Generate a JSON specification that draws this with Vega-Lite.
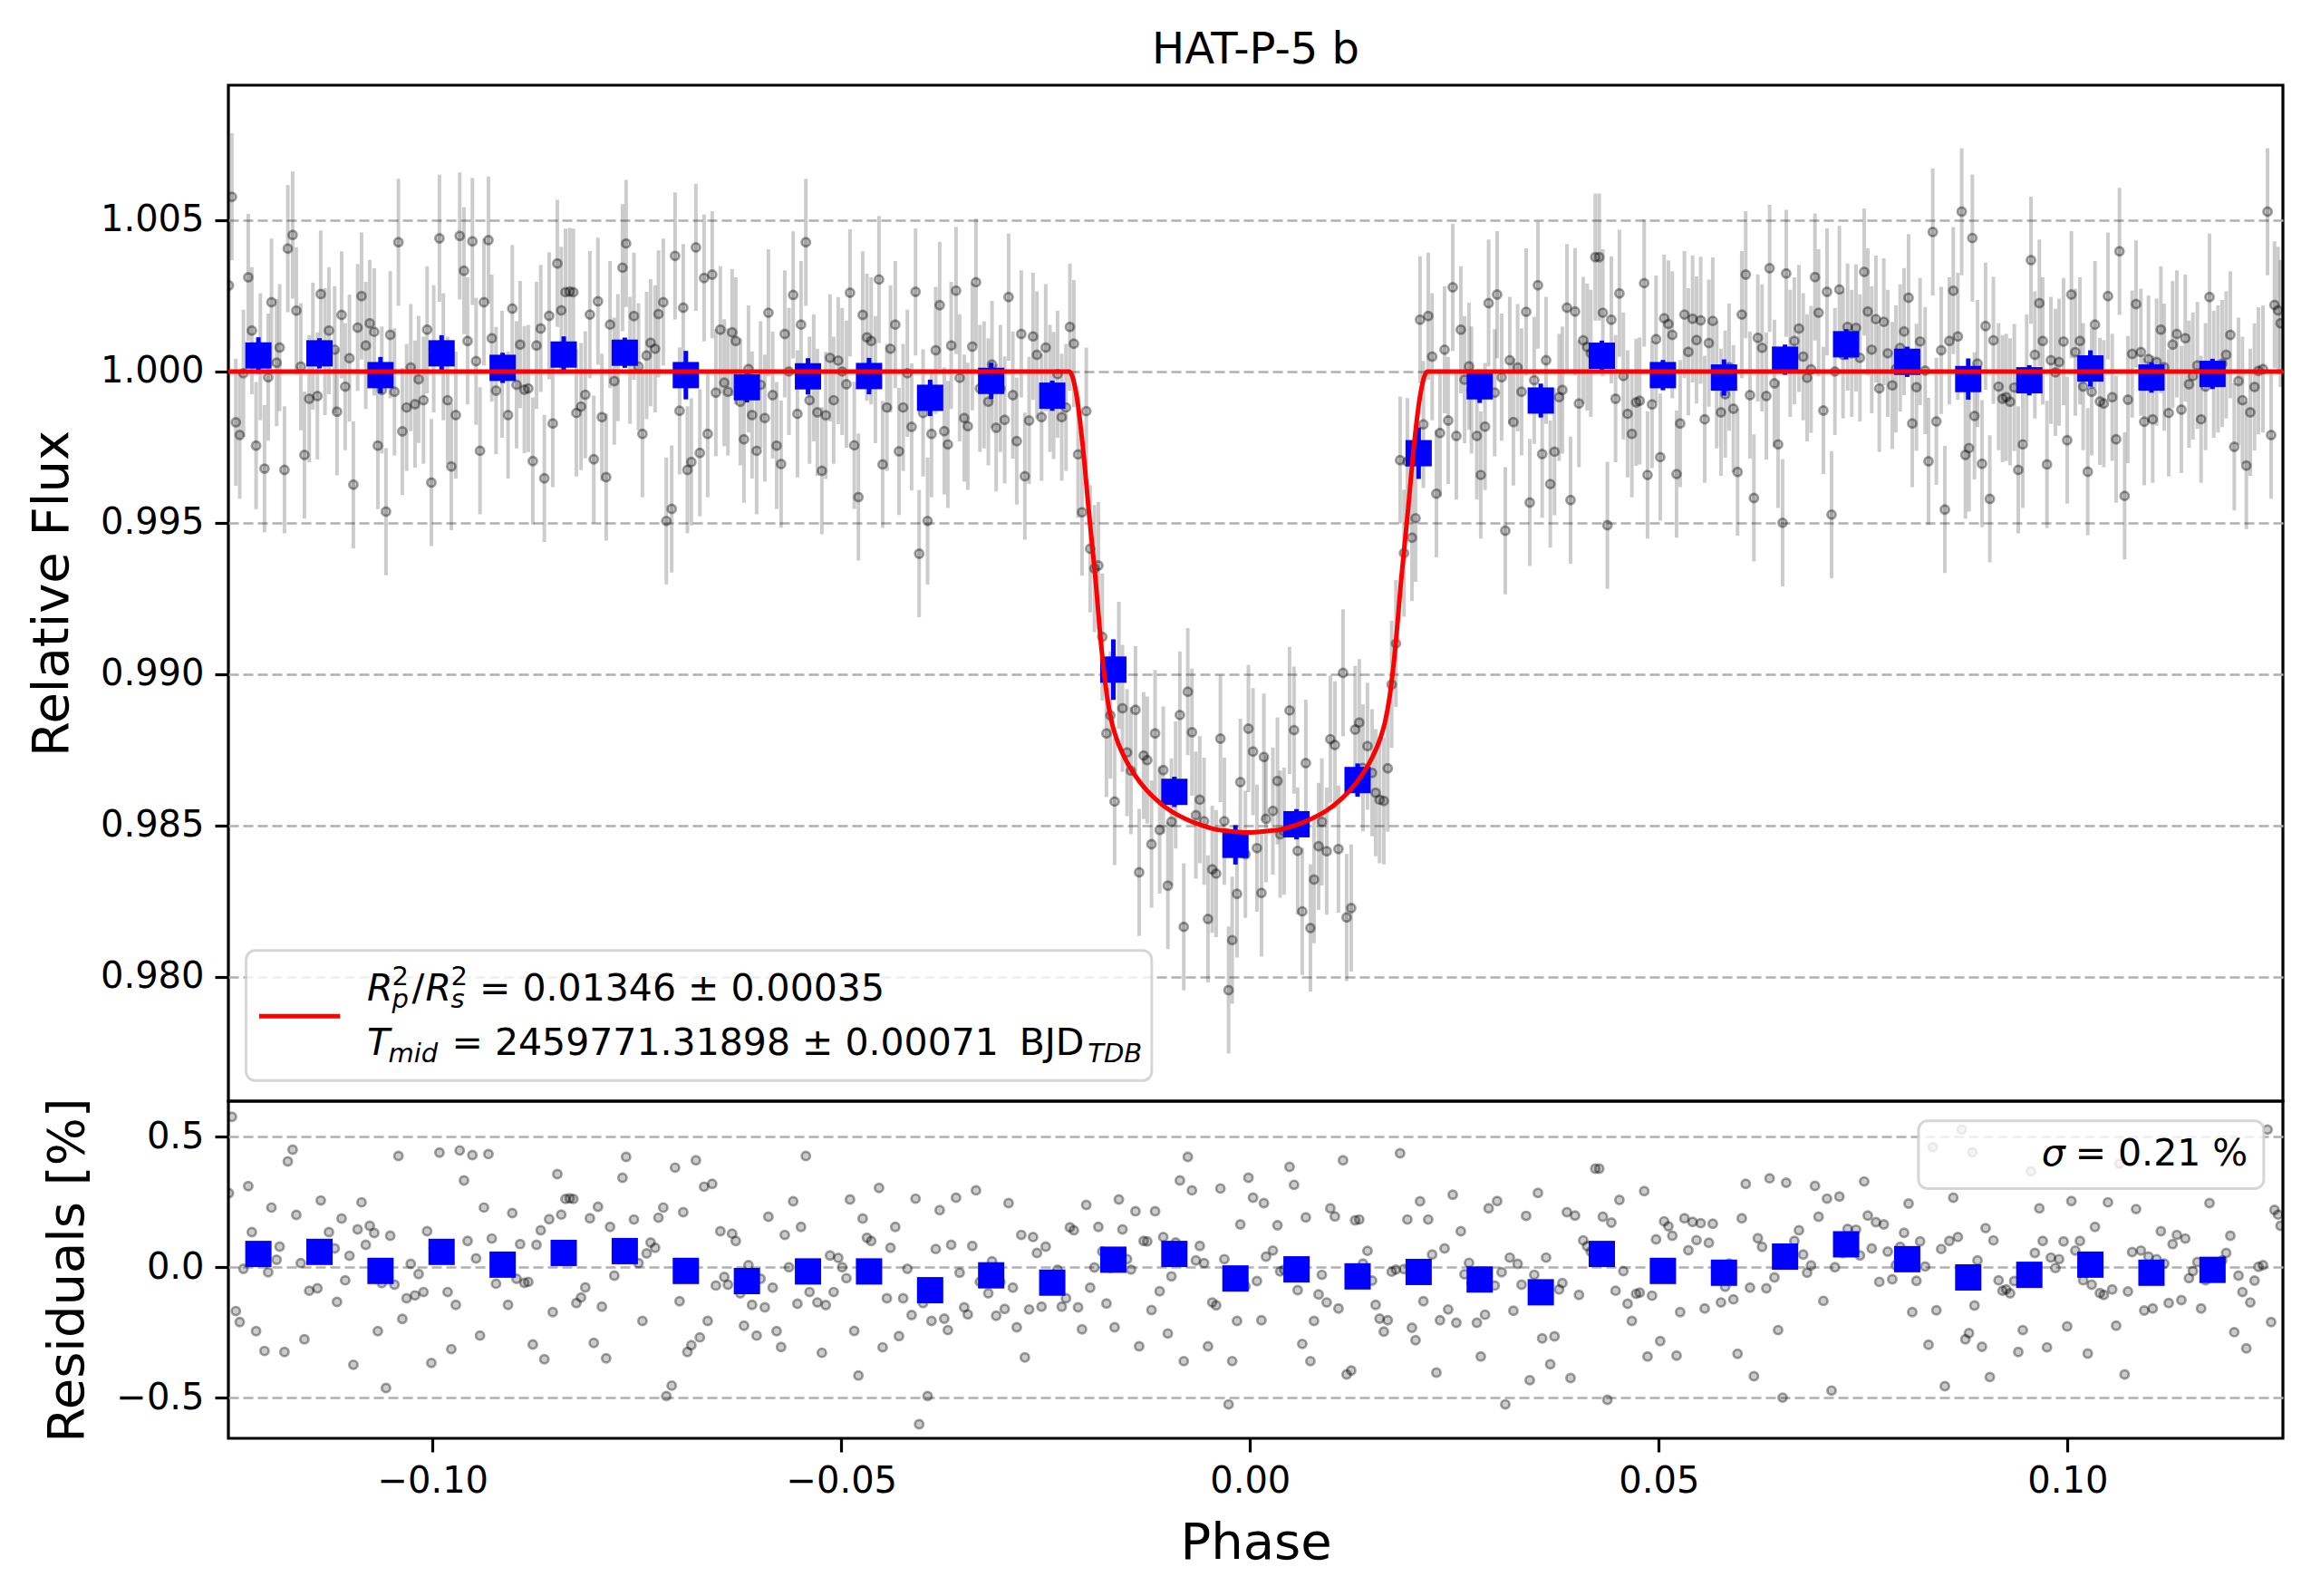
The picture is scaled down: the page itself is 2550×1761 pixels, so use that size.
{
  "$schema": "https://vega.github.io/schema/vega-lite/v6.json",
  "background": "white",
  "padding": {"left": 27, "top": 30, "right": 20, "bottom": 10},
  "datasets": {
    "pts": [
      {"p":-0.12491,"f":1.00284,"r":0.284,"e":0.0021},{"p":-0.12454,"f":1.00577,"r":0.577,"e":0.0021},{"p":-0.12406,"f":0.99832,"r":-0.168,"e":0.0021},{"p":-0.12358,"f":0.9979,"r":-0.21,"e":0.0021},{"p":-0.12313,"f":0.99994,"r":-0.006,"e":0.0021},{"p":-0.12254,"f":1.00311,"r":0.311,"e":0.0021},{"p":-0.1221,"f":1.00135,"r":0.135,"e":0.0021},{"p":-0.12158,"f":0.99755,"r":-0.245,"e":0.0021},{"p":-0.12106,"f":1.00049,"r":0.049,"e":0.0021},{"p":-0.12055,"f":0.99679,"r":-0.321,"e":0.0021},
      {"p":-0.1201,"f":0.99981,"r":-0.019,"e":0.0021},{"p":-0.1197,"f":1.00229,"r":0.229,"e":0.0021},{"p":-0.11907,"f":1.00029,"r":0.029,"e":0.0021},{"p":-0.1187,"f":1.00079,"r":0.079,"e":0.0021},{"p":-0.11811,"f":0.99675,"r":-0.325,"e":0.0021},{"p":-0.1177,"f":1.00406,"r":0.406,"e":0.0021},{"p":-0.11711,"f":1.00451,"r":0.451,"e":0.0021},{"p":-0.11666,"f":1.00201,"r":0.201,"e":0.0021},{"p":-0.11611,"f":1.00016,"r":0.016,"e":0.0021},{"p":-0.11567,"f":0.99724,"r":-0.276,"e":0.0021},
      {"p":-0.11508,"f":0.9991,"r":-0.09,"e":0.0021},{"p":-0.11463,"f":1.00084,"r":0.084,"e":0.0021},{"p":-0.11408,"f":0.99919,"r":-0.081,"e":0.0021},{"p":-0.11367,"f":1.00256,"r":0.256,"e":0.0021},{"p":-0.11315,"f":1.00066,"r":0.066,"e":0.0021},{"p":-0.11267,"f":1.00135,"r":0.135,"e":0.0021},{"p":-0.11197,"f":1.00072,"r":0.072,"e":0.0021},{"p":-0.11168,"f":0.99867,"r":-0.133,"e":0.0021},{"p":-0.11112,"f":1.00187,"r":0.187,"e":0.0021},{"p":-0.11068,"f":0.9995,"r":-0.05,"e":0.0021},
      {"p":-0.11016,"f":1.00044,"r":0.044,"e":0.0021},{"p":-0.10968,"f":0.99626,"r":-0.374,"e":0.0021},{"p":-0.10916,"f":1.00145,"r":0.145,"e":0.0021},{"p":-0.10868,"f":1.00249,"r":0.249,"e":0.0021},{"p":-0.10816,"f":1.00086,"r":0.086,"e":0.0021},{"p":-0.10768,"f":1.00159,"r":0.159,"e":0.0021},{"p":-0.10713,"f":1.00131,"r":0.131,"e":0.0021},{"p":-0.10669,"f":0.99755,"r":-0.245,"e":0.0021},{"p":-0.1062,"f":0.99939,"r":-0.061,"e":0.0021},{"p":-0.10569,"f":0.99537,"r":-0.463,"e":0.0021},
      {"p":-0.10517,"f":1.00121,"r":0.121,"e":0.0021},{"p":-0.10465,"f":0.99933,"r":-0.067,"e":0.0021},{"p":-0.10417,"f":1.00427,"r":0.427,"e":0.0021},{"p":-0.10369,"f":0.99802,"r":-0.198,"e":0.0021},{"p":-0.10317,"f":0.99881,"r":-0.119,"e":0.0021},{"p":-0.10266,"f":1.00013,"r":0.013,"e":0.0021},{"p":-0.10214,"f":0.99892,"r":-0.108,"e":0.0021},{"p":-0.1017,"f":0.99974,"r":-0.026,"e":0.0021},{"p":-0.1011,"f":0.99905,"r":-0.095,"e":0.0021},{"p":-0.10066,"f":1.00138,"r":0.138,"e":0.0021},
      {"p":-0.10014,"f":0.99633,"r":-0.367,"e":0.0021},{"p":-0.09985,"f":1.00075,"r":0.075,"e":0.0021},{"p":-0.09915,"f":1.0044,"r":0.44,"e":0.0021},{"p":-0.09867,"f":1.00049,"r":0.049,"e":0.0021},{"p":-0.09815,"f":0.99905,"r":-0.095,"e":0.0021},{"p":-0.0977,"f":0.99686,"r":-0.314,"e":0.0021},{"p":-0.09715,"f":0.99856,"r":-0.144,"e":0.0021},{"p":-0.09667,"f":1.00448,"r":0.448,"e":0.0021},{"p":-0.09615,"f":1.00333,"r":0.333,"e":0.0021},{"p":-0.09571,"f":1.00101,"r":0.101,"e":0.0021},
      {"p":-0.09512,"f":1.0043,"r":0.43,"e":0.0021},{"p":-0.09467,"f":1.00034,"r":0.034,"e":0.0021},{"p":-0.09419,"f":0.99738,"r":-0.262,"e":0.0021},{"p":-0.09371,"f":1.00229,"r":0.229,"e":0.0021},{"p":-0.09316,"f":1.00434,"r":0.434,"e":0.0021},{"p":-0.09275,"f":1.0011,"r":0.11,"e":0.0021},{"p":-0.09223,"f":0.99937,"r":-0.063,"e":0.0021},{"p":-0.09149,"f":0.99991,"r":-0.009,"e":0.0021},{"p":-0.09076,"f":0.99856,"r":-0.144,"e":0.0021},{"p":-0.09024,"f":1.00208,"r":0.208,"e":0.0021},
      {"p":-0.08972,"f":0.99956,"r":-0.044,"e":0.0021},{"p":-0.08928,"f":1.00089,"r":0.089,"e":0.0021},{"p":-0.08876,"f":0.9994,"r":-0.06,"e":0.0021},{"p":-0.08828,"f":0.99944,"r":-0.056,"e":0.0021},{"p":-0.08773,"f":0.99704,"r":-0.296,"e":0.0021},{"p":-0.08728,"f":1.00086,"r":0.086,"e":0.0021},{"p":-0.08676,"f":1.00142,"r":0.142,"e":0.0021},{"p":-0.08632,"f":0.99647,"r":-0.353,"e":0.0021},{"p":-0.08573,"f":1.00184,"r":0.184,"e":0.0021},{"p":-0.08529,"f":0.99828,"r":-0.172,"e":0.0021},
      {"p":-0.08473,"f":1.00357,"r":0.357,"e":0.0021},{"p":-0.08425,"f":1.00202,"r":0.202,"e":0.0021},{"p":-0.08373,"f":1.00262,"r":0.262,"e":0.0021},{"p":-0.08322,"f":1.00264,"r":0.264,"e":0.0021},{"p":-0.08277,"f":1.00262,"r":0.262,"e":0.0021},{"p":-0.0824,"f":0.99863,"r":-0.137,"e":0.0021},{"p":-0.08183,"f":0.99884,"r":-0.116,"e":0.0021},{"p":-0.08131,"f":0.99923,"r":-0.077,"e":0.0021},{"p":-0.08075,"f":1.00188,"r":0.188,"e":0.0021},{"p":-0.08027,"f":0.9971,"r":-0.29,"e":0.0021},
      {"p":-0.07976,"f":1.00232,"r":0.232,"e":0.0021},{"p":-0.07928,"f":0.99849,"r":-0.151,"e":0.0021},{"p":-0.07876,"f":0.99651,"r":-0.349,"e":0.0021},{"p":-0.07828,"f":1.00155,"r":0.155,"e":0.0021},{"p":-0.07776,"f":0.99968,"r":-0.032,"e":0.0021},{"p":-0.07732,"f":1.00046,"r":0.046,"e":0.0021},{"p":-0.07676,"f":1.00343,"r":0.343,"e":0.0021},{"p":-0.07632,"f":1.00423,"r":0.423,"e":0.0021},{"p":-0.07584,"f":1.00037,"r":0.037,"e":0.0021},{"p":-0.07536,"f":1.00183,"r":0.183,"e":0.0021},
      {"p":-0.0748,"f":1.00016,"r":0.016,"e":0.0021},{"p":-0.07432,"f":0.99794,"r":-0.206,"e":0.0021},{"p":-0.07381,"f":1.00053,"r":0.053,"e":0.0021},{"p":-0.07332,"f":1.00095,"r":0.095,"e":0.0021},{"p":-0.07277,"f":1.00075,"r":0.075,"e":0.0021},{"p":-0.07236,"f":1.0019,"r":0.19,"e":0.0021},{"p":-0.07177,"f":1.00229,"r":0.229,"e":0.0021},{"p":-0.0714,"f":0.99506,"r":-0.494,"e":0.0021},{"p":-0.07074,"f":0.99546,"r":-0.454,"e":0.0021},{"p":-0.07033,"f":1.00382,"r":0.382,"e":0.0021},
      {"p":-0.06978,"f":0.9987,"r":-0.13,"e":0.0021},{"p":-0.06933,"f":1.00211,"r":0.211,"e":0.0021},{"p":-0.06882,"f":0.99675,"r":-0.325,"e":0.0021},{"p":-0.06834,"f":0.99701,"r":-0.299,"e":0.0021},{"p":-0.06778,"f":1.0041,"r":0.41,"e":0.0021},{"p":-0.0673,"f":0.99731,"r":-0.269,"e":0.0021},{"p":-0.06678,"f":1.00309,"r":0.309,"e":0.0021},{"p":-0.06634,"f":0.99794,"r":-0.206,"e":0.0021},{"p":-0.06579,"f":1.0032,"r":0.32,"e":0.0021},{"p":-0.06534,"f":0.9993,"r":-0.07,"e":0.0021},
      {"p":-0.06479,"f":1.00138,"r":0.138,"e":0.0021},{"p":-0.06431,"f":0.99963,"r":-0.037,"e":0.0021},{"p":-0.06386,"f":0.99933,"r":-0.067,"e":0.0021},{"p":-0.06335,"f":1.00129,"r":0.129,"e":0.0021},{"p":-0.0629,"f":1.00101,"r":0.101,"e":0.0021},{"p":-0.06235,"f":0.999,"r":-0.1,"e":0.0021},{"p":-0.0619,"f":0.99776,"r":-0.224,"e":0.0021},{"p":-0.06135,"f":1.00008,"r":0.008,"e":0.0021},{"p":-0.06091,"f":0.99856,"r":-0.144,"e":0.0021},{"p":-0.06035,"f":0.99738,"r":-0.262,"e":0.0021},
      {"p":-0.05987,"f":0.99956,"r":-0.044,"e":0.0021},{"p":-0.05935,"f":0.99846,"r":-0.154,"e":0.0021},{"p":-0.05891,"f":1.00194,"r":0.194,"e":0.0021},{"p":-0.05839,"f":0.99922,"r":-0.078,"e":0.0021},{"p":-0.05791,"f":0.99755,"r":-0.245,"e":0.0021},{"p":-0.05736,"f":0.99694,"r":-0.306,"e":0.0021},{"p":-0.05691,"f":1.00124,"r":0.124,"e":0.0021},{"p":-0.0564,"f":1.0,"r":0.0,"e":0.0021},{"p":-0.05588,"f":1.00253,"r":0.253,"e":0.0021},{"p":-0.05536,"f":0.9986,"r":-0.14,"e":0.0021},
      {"p":-0.05492,"f":1.00155,"r":0.155,"e":0.0021},{"p":-0.05433,"f":1.00427,"r":0.427,"e":0.0021},{"p":-0.05388,"f":0.99905,"r":-0.095,"e":0.0021},{"p":-0.05337,"f":0.99979,"r":-0.021,"e":0.0021},{"p":-0.05292,"f":0.99865,"r":-0.135,"e":0.0021},{"p":-0.05237,"f":0.99672,"r":-0.328,"e":0.0021},{"p":-0.05189,"f":0.99855,"r":-0.145,"e":0.0021},{"p":-0.05137,"f":1.00045,"r":0.045,"e":0.0021},{"p":-0.05093,"f":0.99905,"r":-0.095,"e":0.0021},{"p":-0.05037,"f":1.00036,"r":0.036,"e":0.0021},
      {"p":-0.04989,"f":1.0,"r":0.0,"e":0.0021},{"p":-0.04937,"f":0.99958,"r":-0.042,"e":0.0021},{"p":-0.04893,"f":1.0026,"r":0.26,"e":0.0021},{"p":-0.04841,"f":0.99756,"r":-0.244,"e":0.0021},{"p":-0.0479,"f":0.99585,"r":-0.415,"e":0.0021},{"p":-0.04738,"f":1.00187,"r":0.187,"e":0.0021},{"p":-0.04686,"f":1.00113,"r":0.113,"e":0.0021},{"p":-0.04634,"f":1.00101,"r":0.101,"e":0.0021},{"p":-0.04583,"f":0.99973,"r":-0.027,"e":0.0021},{"p":-0.04538,"f":1.00304,"r":0.304,"e":0.0021},
      {"p":-0.04494,"f":0.99693,"r":-0.307,"e":0.0021},{"p":-0.04442,"f":0.99881,"r":-0.119,"e":0.0021},{"p":-0.04398,"f":1.00075,"r":0.075,"e":0.0021},{"p":-0.04339,"f":1.00155,"r":0.155,"e":0.0021},{"p":-0.04294,"f":0.99736,"r":-0.264,"e":0.0021},{"p":-0.04243,"f":0.99881,"r":-0.119,"e":0.0021},{"p":-0.04191,"f":0.99994,"r":-0.006,"e":0.0021},{"p":-0.04139,"f":0.99817,"r":-0.183,"e":0.0021},{"p":-0.04091,"f":1.00263,"r":0.263,"e":0.0021},{"p":-0.04047,"f":0.99398,"r":-0.602,"e":0.0021},
      {"p":-0.03999,"f":0.99863,"r":-0.137,"e":0.0021},{"p":-0.03944,"f":0.99506,"r":-0.494,"e":0.0021},{"p":-0.03896,"f":0.99794,"r":-0.206,"e":0.0021},{"p":-0.03844,"f":1.0007,"r":0.07,"e":0.0021},{"p":-0.03796,"f":1.00219,"r":0.219,"e":0.0021},{"p":-0.0374,"f":0.99803,"r":-0.197,"e":0.0021},{"p":-0.03696,"f":0.99759,"r":-0.241,"e":0.0021},{"p":-0.03655,"f":1.00086,"r":0.086,"e":0.0021},{"p":-0.03596,"f":1.00267,"r":0.267,"e":0.0021},{"p":-0.03552,"f":0.99979,"r":-0.021,"e":0.0021},
      {"p":-0.03496,"f":0.99846,"r":-0.154,"e":0.0021},{"p":-0.03452,"f":0.99819,"r":-0.181,"e":0.0021},{"p":-0.03397,"f":1.00082,"r":0.082,"e":0.0021},{"p":-0.03352,"f":1.00295,"r":0.295,"e":0.0021},{"p":-0.03304,"f":0.99944,"r":-0.056,"e":0.0021},{"p":-0.03253,"f":0.99956,"r":-0.044,"e":0.0021},{"p":-0.03201,"f":0.999,"r":-0.1,"e":0.0021},{"p":-0.03156,"f":1.00023,"r":0.023,"e":0.0021},{"p":-0.03105,"f":0.99814,"r":-0.186,"e":0.0021},{"p":-0.03053,"f":0.99944,"r":-0.056,"e":0.0021},
      {"p":-0.03001,"f":0.9984,"r":-0.16,"e":0.0021},{"p":-0.02953,"f":1.00246,"r":0.246,"e":0.0021},{"p":-0.02901,"f":0.99922,"r":-0.078,"e":0.0021},{"p":-0.02853,"f":0.9977,"r":-0.23,"e":0.0021},{"p":-0.02798,"f":1.00124,"r":0.124,"e":0.0021},{"p":-0.02754,"f":0.99654,"r":-0.346,"e":0.0021},{"p":-0.02702,"f":0.99838,"r":-0.162,"e":0.0021},{"p":-0.02654,"f":1.00116,"r":0.116,"e":0.0021},{"p":-0.02606,"f":1.00055,"r":0.055,"e":0.0021},{"p":-0.0255,"f":0.99849,"r":-0.151,"e":0.0021},
      {"p":-0.02499,"f":1.00079,"r":0.079,"e":0.0021},{"p":-0.02447,"f":0.99944,"r":-0.056,"e":0.0021},{"p":-0.02402,"f":0.99921,"r":-0.079,"e":0.0021},{"p":-0.02354,"f":0.99991,"r":-0.009,"e":0.0021},{"p":-0.02303,"f":0.99849,"r":-0.151,"e":0.0021},{"p":-0.02251,"f":0.99881,"r":-0.119,"e":0.0021},{"p":-0.02203,"f":1.00147,"r":0.153,"e":0.0021},{"p":-0.02155,"f":1.00092,"r":0.142,"e":0.0021},{"p":-0.02103,"f":0.99726,"r":-0.154,"e":0.0021},{"p":-0.02055,"f":0.99535,"r":-0.238,"e":0.0021},
      {"p":-0.02003,"f":0.99869,"r":0.239,"e":0.0021},{"p":-0.01955,"f":0.99414,"r":-0.078,"e":0.0021},{"p":-0.01903,"f":0.99349,"r":-0.001,"e":0.0021},{"p":-0.01855,"f":0.99359,"r":0.155,"e":0.0021},{"p":-0.01807,"f":0.99123,"r":0.06,"e":0.0021},{"p":-0.01756,"f":0.98804,"r":-0.139,"e":0.0021},{"p":-0.01708,"f":0.98864,"r":-0.003,"e":0.0021},{"p":-0.01656,"f":0.98579,"r":-0.23,"e":0.0021},{"p":-0.01604,"f":0.99029,"r":0.26,"e":0.0021},{"p":-0.0156,"f":0.98887,"r":0.145,"e":0.0021},
      {"p":-0.01504,"f":0.98741,"r":0.031,"e":0.0021},{"p":-0.01456,"f":0.98681,"r":-0.009,"e":0.0021},{"p":-0.01401,"f":0.98882,"r":0.215,"e":0.0021},{"p":-0.01356,"f":0.98345,"r":-0.303,"e":0.0021},{"p":-0.01301,"f":0.98731,"r":0.101,"e":0.0021},{"p":-0.01257,"f":0.98716,"r":0.099,"e":0.0021},{"p":-0.01205,"f":0.98438,"r":-0.164,"e":0.0021},{"p":-0.01161,"f":0.98804,"r":0.215,"e":0.0021},{"p":-0.01105,"f":0.98485,"r":-0.092,"e":0.0021},{"p":-0.01061,"f":0.98683,"r":0.116,"e":0.0021},
      {"p":-0.01005,"f":0.98301,"r":-0.254,"e":0.0021},{"p":-0.00961,"f":0.98512,"r":-0.035,"e":0.0021},{"p":-0.00909,"f":0.98634,"r":0.095,"e":0.0021},{"p":-0.00858,"f":0.98865,"r":0.333,"e":0.0021},{"p":-0.0081,"f":0.98165,"r":-0.36,"e":0.0021},{"p":-0.00761,"f":0.98942,"r":0.423,"e":0.0021},{"p":-0.0071,"f":0.98808,"r":0.295,"e":0.0021},{"p":-0.00662,"f":0.98534,"r":0.026,"e":0.0021},{"p":-0.00614,"f":0.98585,"r":0.082,"e":0.0021},{"p":-0.00562,"f":0.98514,"r":0.016,"e":0.0021},
      {"p":-0.00514,"f":0.98191,"r":-0.303,"e":0.0021},{"p":-0.00462,"f":0.98355,"r":-0.135,"e":0.0021},{"p":-0.00414,"f":0.98341,"r":-0.146,"e":0.0021},{"p":-0.00362,"f":0.98787,"r":0.302,"e":0.0021},{"p":-0.00314,"f":0.98514,"r":0.031,"e":0.0021},{"p":-0.00262,"f":0.97956,"r":-0.526,"e":0.0021},{"p":-0.00218,"f":0.98121,"r":-0.36,"e":0.0021},{"p":-0.00159,"f":0.98274,"r":-0.206,"e":0.0021},{"p":-0.00118,"f":0.98643,"r":0.164,"e":0.0021},{"p":-0.00056,"f":0.98405,"r":-0.073,"e":0.0021},
      {"p":-0.00019,"f":0.9882,"r":0.343,"e":0.0021},{"p":0.00037,"f":0.98744,"r":0.267,"e":0.0021},{"p":0.00085,"f":0.98425,"r":-0.053,"e":0.0021},{"p":0.0014,"f":0.98277,"r":-0.203,"e":0.0021},{"p":0.0017,"f":0.98726,"r":0.246,"e":0.0021},{"p":0.00196,"f":0.98522,"r":0.041,"e":0.0021},{"p":0.0028,"f":0.98548,"r":0.064,"e":0.0021},{"p":0.00336,"f":0.98647,"r":0.161,"e":0.0021},{"p":0.00369,"f":0.98471,"r":-0.016,"e":0.0021},{"p":0.00417,"f":0.98481,"r":-0.009,"e":0.0021},
      {"p":0.00484,"f":0.9888,"r":0.385,"e":0.0021},{"p":0.00539,"f":0.98815,"r":0.316,"e":0.0021},{"p":0.00583,"f":0.98416,"r":-0.088,"e":0.0021},{"p":0.00639,"f":0.98216,"r":-0.294,"e":0.0021},{"p":0.00683,"f":0.98706,"r":0.191,"e":0.0021},{"p":0.00739,"f":0.98161,"r":-0.36,"e":0.0021},{"p":0.00783,"f":0.98321,"r":-0.206,"e":0.0021},{"p":0.00839,"f":0.98431,"r":-0.104,"e":0.0021},{"p":0.00879,"f":0.98512,"r":-0.029,"e":0.0021},{"p":0.00938,"f":0.98415,"r":-0.135,"e":0.0021},
      {"p":0.00983,"f":0.98785,"r":0.226,"e":0.0021},{"p":0.01038,"f":0.98766,"r":0.195,"e":0.0021},{"p":0.01082,"f":0.98422,"r":-0.158,"e":0.0021},{"p":0.01138,"f":0.99004,"r":0.41,"e":0.0021},{"p":0.01182,"f":0.98196,"r":-0.411,"e":0.0021},{"p":0.01238,"f":0.98227,"r":-0.396,"e":0.0021},{"p":0.01286,"f":0.98817,"r":0.18,"e":0.0021},{"p":0.01337,"f":0.9884,"r":0.183,"e":0.0021},{"p":0.01382,"f":0.9869,"r":0.014,"e":0.0021},{"p":0.01437,"f":0.98762,"r":0.063,"e":0.0021},
      {"p":0.01493,"f":0.98674,"r":-0.051,"e":0.0021},{"p":0.01537,"f":0.98608,"r":-0.144,"e":0.0021},{"p":0.01585,"f":0.98585,"r":-0.197,"e":0.0021},{"p":0.01637,"f":0.98581,"r":-0.247,"e":0.0021},{"p":0.01685,"f":0.98689,"r":-0.203,"e":0.0021},{"p":0.01733,"f":0.98966,"r":-0.017,"e":0.0021},{"p":0.01785,"f":0.99101,"r":-0.009,"e":0.0021},{"p":0.01836,"f":0.99707,"r":0.437,"e":0.0021},{"p":0.01884,"f":0.994,"r":-0.007,"e":0.0021},{"p":0.01925,"f":0.99702,"r":0.183,"e":0.0021},
      {"p":0.01981,"f":0.99451,"r":-0.232,"e":0.0021},{"p":0.02025,"f":0.99515,"r":-0.28,"e":0.0021},{"p":0.0208,"f":1.00171,"r":0.253,"e":0.0021},{"p":0.02121,"f":0.99825,"r":-0.13,"e":0.0021},{"p":0.0218,"f":1.00183,"r":0.183,"e":0.0021},{"p":0.02228,"f":1.00049,"r":0.049,"e":0.0021},{"p":0.0228,"f":0.99596,"r":-0.404,"e":0.0021},{"p":0.02324,"f":0.99797,"r":-0.203,"e":0.0021},{"p":0.0238,"f":1.00072,"r":0.072,"e":0.0021},{"p":0.02424,"f":0.99838,"r":-0.162,"e":0.0021},
      {"p":0.0248,"f":1.00278,"r":0.278,"e":0.0021},{"p":0.02524,"f":0.99787,"r":-0.213,"e":0.0021},{"p":0.02579,"f":1.00138,"r":0.138,"e":0.0021},{"p":0.02624,"f":0.99973,"r":-0.027,"e":0.0021},{"p":0.02679,"f":1.00017,"r":0.017,"e":0.0021},{"p":0.02709,"f":0.99939,"r":-0.061,"e":0.0021},{"p":0.02775,"f":0.99787,"r":-0.213,"e":0.0021},{"p":0.02823,"f":0.99658,"r":-0.342,"e":0.0021},{"p":0.02875,"f":0.99818,"r":-0.182,"e":0.0021},{"p":0.02919,"f":1.00226,"r":0.226,"e":0.0021},
      {"p":0.02993,"f":0.9993,"r":-0.07,"e":0.0021},{"p":0.03023,"f":1.00254,"r":0.254,"e":0.0021},{"p":0.03078,"f":0.99981,"r":-0.019,"e":0.0021},{"p":0.03123,"f":0.99474,"r":-0.526,"e":0.0021},{"p":0.03178,"f":1.00037,"r":0.037,"e":0.0021},{"p":0.03222,"f":0.99833,"r":-0.167,"e":0.0021},{"p":0.03274,"f":1.00013,"r":0.013,"e":0.0021},{"p":0.03322,"f":0.99933,"r":-0.067,"e":0.0021},{"p":0.03378,"f":1.00197,"r":0.197,"e":0.0021},{"p":0.03422,"f":0.99567,"r":-0.433,"e":0.0021},
      {"p":0.03477,"f":0.99971,"r":-0.029,"e":0.0021},{"p":0.03522,"f":1.00285,"r":0.285,"e":0.0021},{"p":0.03574,"f":0.99727,"r":-0.273,"e":0.0021},{"p":0.03622,"f":1.00037,"r":0.037,"e":0.0021},{"p":0.03673,"f":0.99628,"r":-0.372,"e":0.0021},{"p":0.03725,"f":0.99735,"r":-0.265,"e":0.0021},{"p":0.03781,"f":0.99915,"r":-0.085,"e":0.0021},{"p":0.03821,"f":0.99939,"r":-0.061,"e":0.0021},{"p":0.03877,"f":1.00211,"r":0.211,"e":0.0021},{"p":0.03921,"f":0.99575,"r":-0.425,"e":0.0021},
      {"p":0.03976,"f":1.00198,"r":0.198,"e":0.0021},{"p":0.04024,"f":0.99894,"r":-0.106,"e":0.0021},{"p":0.04076,"f":1.00103,"r":0.103,"e":0.0021},{"p":0.04124,"f":1.00081,"r":0.081,"e":0.0021},{"p":0.04169,"f":1.0006,"r":0.06,"e":0.0021},{"p":0.04224,"f":1.00378,"r":0.378,"e":0.0021},{"p":0.04272,"f":1.00378,"r":0.378,"e":0.0021},{"p":0.04316,"f":1.00194,"r":0.194,"e":0.0021},{"p":0.04372,"f":0.99492,"r":-0.508,"e":0.0021},{"p":0.0442,"f":1.00171,"r":0.171,"e":0.0021},
      {"p":0.04472,"f":0.9991,"r":-0.09,"e":0.0021},{"p":0.04519,"f":1.00258,"r":0.258,"e":0.0021},{"p":0.04567,"f":0.99985,"r":-0.015,"e":0.0021},{"p":0.04619,"f":0.9986,"r":-0.14,"e":0.0021},{"p":0.04671,"f":0.99794,"r":-0.206,"e":0.0021},{"p":0.04723,"f":0.99898,"r":-0.102,"e":0.0021},{"p":0.04767,"f":0.99903,"r":-0.097,"e":0.0021},{"p":0.04822,"f":1.00292,"r":0.292,"e":0.0021},{"p":0.04863,"f":0.99658,"r":-0.342,"e":0.0021},{"p":0.04918,"f":0.99891,"r":-0.109,"e":0.0021},
      {"p":0.04967,"f":1.00107,"r":0.107,"e":0.0021},{"p":0.05018,"f":0.99717,"r":-0.283,"e":0.0021},{"p":0.05066,"f":1.00176,"r":0.176,"e":0.0021},{"p":0.05118,"f":1.00157,"r":0.157,"e":0.0021},{"p":0.05166,"f":1.00121,"r":0.121,"e":0.0021},{"p":0.05218,"f":0.99661,"r":-0.339,"e":0.0021},{"p":0.05262,"f":0.99828,"r":-0.172,"e":0.0021},{"p":0.05314,"f":1.00188,"r":0.188,"e":0.0021},{"p":0.05362,"f":1.00065,"r":0.065,"e":0.0021},{"p":0.05414,"f":1.00174,"r":0.174,"e":0.0021},
      {"p":0.05462,"f":1.00104,"r":0.104,"e":0.0021},{"p":0.05513,"f":1.00169,"r":0.169,"e":0.0021},{"p":0.05562,"f":0.99842,"r":-0.158,"e":0.0021},{"p":0.05613,"f":1.00094,"r":0.094,"e":0.0021},{"p":0.05661,"f":1.00167,"r":0.167,"e":0.0021},{"p":0.05709,"f":0.99956,"r":-0.044,"e":0.0021},{"p":0.05761,"f":0.99865,"r":-0.135,"e":0.0021},{"p":0.05813,"f":0.99925,"r":-0.075,"e":0.0021},{"p":0.05861,"f":1.00014,"r":0.014,"e":0.0021},{"p":0.05913,"f":0.99877,"r":-0.123,"e":0.0021},
      {"p":0.05964,"f":0.99668,"r":-0.332,"e":0.0021},{"p":0.06016,"f":1.00188,"r":0.188,"e":0.0021},{"p":0.06064,"f":1.0032,"r":0.32,"e":0.0021},{"p":0.06116,"f":0.99922,"r":-0.078,"e":0.0021},{"p":0.06164,"f":0.99582,"r":-0.418,"e":0.0021},{"p":0.06212,"f":1.00111,"r":0.111,"e":0.0021},{"p":0.06264,"f":1.00078,"r":0.078,"e":0.0021},{"p":0.06316,"f":0.99919,"r":-0.081,"e":0.0021},{"p":0.06356,"f":1.00341,"r":0.341,"e":0.0021},{"p":0.06415,"f":0.99961,"r":-0.039,"e":0.0021},
      {"p":0.0646,"f":0.99759,"r":-0.241,"e":0.0021},{"p":0.06515,"f":0.995,"r":-0.5,"e":0.0021},{"p":0.06559,"f":1.00324,"r":0.324,"e":0.0021},{"p":0.06608,"f":1.0006,"r":0.06,"e":0.0021},{"p":0.06659,"f":1.00101,"r":0.101,"e":0.0021},{"p":0.06715,"f":1.00142,"r":0.142,"e":0.0021},{"p":0.06767,"f":1.00049,"r":0.049,"e":0.0021},{"p":0.06815,"f":0.99979,"r":-0.021,"e":0.0021},{"p":0.06863,"f":1.00007,"r":0.007,"e":0.0021},{"p":0.06911,"f":1.00312,"r":0.312,"e":0.0021},
      {"p":0.06955,"f":1.00194,"r":0.194,"e":0.0021},{"p":0.07014,"f":0.99871,"r":-0.129,"e":0.0021},{"p":0.07058,"f":1.00263,"r":0.263,"e":0.0021},{"p":0.07114,"f":0.99527,"r":-0.473,"e":0.0021},{"p":0.07155,"f":1.0,"r":0.0,"e":0.0021},{"p":0.0721,"f":1.00271,"r":0.271,"e":0.0021},{"p":0.07254,"f":1.00055,"r":0.055,"e":0.0021},{"p":0.0731,"f":1.00147,"r":0.147,"e":0.0021},{"p":0.07361,"f":1.0006,"r":0.06,"e":0.0021},{"p":0.07413,"f":1.00144,"r":0.144,"e":0.0021},
      {"p":0.07461,"f":1.00045,"r":0.045,"e":0.0021},{"p":0.07513,"f":1.00329,"r":0.329,"e":0.0021},{"p":0.07557,"f":1.00198,"r":0.198,"e":0.0021},{"p":0.07605,"f":1.00072,"r":0.072,"e":0.0021},{"p":0.07657,"f":1.00173,"r":0.173,"e":0.0021},{"p":0.07698,"f":0.99944,"r":-0.056,"e":0.0021},{"p":0.07753,"f":1.00164,"r":0.164,"e":0.0021},{"p":0.07801,"f":1.0006,"r":0.06,"e":0.0021},{"p":0.07857,"f":0.99954,"r":-0.046,"e":0.0021},{"p":0.07901,"f":1.00008,"r":0.008,"e":0.0021},
      {"p":0.07953,"f":1.00078,"r":0.078,"e":0.0021},{"p":0.08001,"f":1.00132,"r":0.132,"e":0.0021},{"p":0.08056,"f":1.00244,"r":0.244,"e":0.0021},{"p":0.08101,"f":0.99828,"r":-0.172,"e":0.0021},{"p":0.08152,"f":0.99948,"r":-0.052,"e":0.0021},{"p":0.08197,"f":1.00099,"r":0.099,"e":0.0021},{"p":0.08259,"f":1.00003,"r":0.003,"e":0.0021},{"p":0.083,"f":0.99703,"r":-0.297,"e":0.0021},{"p":0.08352,"f":1.00461,"r":0.461,"e":0.0021},{"p":0.08396,"f":0.99835,"r":-0.165,"e":0.0021},
      {"p":0.08455,"f":1.0007,"r":0.07,"e":0.0021},{"p":0.085,"f":0.99544,"r":-0.456,"e":0.0021},{"p":0.08555,"f":1.00101,"r":0.101,"e":0.0021},{"p":0.08603,"f":1.00267,"r":0.267,"e":0.0021},{"p":0.08659,"f":1.00116,"r":0.116,"e":0.0021},{"p":0.08706,"f":1.00528,"r":0.528,"e":0.0021},{"p":0.08751,"f":0.99724,"r":-0.276,"e":0.0021},{"p":0.08795,"f":0.99747,"r":-0.253,"e":0.0021},{"p":0.08836,"f":1.00441,"r":0.441,"e":0.0021},{"p":0.08862,"f":0.99853,"r":-0.147,"e":0.0021},
      {"p":0.08899,"f":1.00026,"r":0.026,"e":0.0021},{"p":0.08954,"f":0.99695,"r":-0.305,"e":0.0021},{"p":0.08998,"f":1.0015,"r":0.15,"e":0.0021},{"p":0.0905,"f":0.99579,"r":-0.421,"e":0.0021},{"p":0.09094,"f":1.00103,"r":0.103,"e":0.0021},{"p":0.09157,"f":0.9995,"r":-0.05,"e":0.0021},{"p":0.09205,"f":0.9991,"r":-0.09,"e":0.0021},{"p":0.0925,"f":0.99915,"r":-0.085,"e":0.0021},{"p":0.09298,"f":0.999,"r":-0.1,"e":0.0021},{"p":0.09349,"f":0.99947,"r":-0.053,"e":0.0021},
      {"p":0.09398,"f":0.99675,"r":-0.325,"e":0.0021},{"p":0.09453,"f":0.99759,"r":-0.241,"e":0.0021},{"p":0.09501,"f":0.99979,"r":-0.021,"e":0.0021},{"p":0.09553,"f":1.00368,"r":0.368,"e":0.0021},{"p":0.09601,"f":1.00055,"r":0.055,"e":0.0021},{"p":0.09656,"f":1.00226,"r":0.226,"e":0.0021},{"p":0.09697,"f":1.00101,"r":0.101,"e":0.0021},{"p":0.09749,"f":0.99693,"r":-0.307,"e":0.0021},{"p":0.09797,"f":1.00037,"r":0.037,"e":0.0021},{"p":0.09852,"f":0.99997,"r":-0.003,"e":0.0021},
      {"p":0.09897,"f":1.00031,"r":0.031,"e":0.0021},{"p":0.09952,"f":1.00099,"r":0.099,"e":0.0021},{"p":0.09996,"f":0.99773,"r":-0.227,"e":0.0021},{"p":0.10048,"f":1.00254,"r":0.254,"e":0.0021},{"p":0.10096,"f":1.00064,"r":0.064,"e":0.0021},{"p":0.10152,"f":1.00101,"r":0.101,"e":0.0021},{"p":0.10192,"f":0.9995,"r":-0.05,"e":0.0021},{"p":0.10248,"f":0.99669,"r":-0.331,"e":0.0021},{"p":0.10296,"f":0.99933,"r":-0.067,"e":0.0021},{"p":0.10336,"f":1.00155,"r":0.155,"e":0.0021},
      {"p":0.10396,"f":0.99901,"r":-0.099,"e":0.0021},{"p":0.10444,"f":0.99894,"r":-0.106,"e":0.0021},{"p":0.10495,"f":1.00249,"r":0.249,"e":0.0021},{"p":0.10547,"f":0.99915,"r":-0.085,"e":0.0021},{"p":0.10595,"f":0.99776,"r":-0.224,"e":0.0021},{"p":0.10636,"f":1.00397,"r":0.397,"e":0.0021},{"p":0.10699,"f":0.99589,"r":-0.411,"e":0.0021},{"p":0.10739,"f":0.99907,"r":-0.093,"e":0.0021},{"p":0.10791,"f":1.00058,"r":0.058,"e":0.0021},{"p":0.10839,"f":1.00223,"r":0.223,"e":0.0021},
      {"p":0.10898,"f":1.00064,"r":0.064,"e":0.0021},{"p":0.10939,"f":0.99834,"r":-0.166,"e":0.0021},{"p":0.10991,"f":1.00041,"r":0.041,"e":0.0021},{"p":0.11042,"f":0.99842,"r":-0.158,"e":0.0021},{"p":0.1109,"f":1.00031,"r":0.031,"e":0.0021},{"p":0.11142,"f":1.00138,"r":0.138,"e":0.0021},{"p":0.11183,"f":1.00014,"r":0.014,"e":0.0021},{"p":0.11238,"f":0.99863,"r":-0.137,"e":0.0021},{"p":0.11286,"f":1.00089,"r":0.089,"e":0.0021},{"p":0.11338,"f":1.00124,"r":0.124,"e":0.0021},
      {"p":0.11393,"f":0.99874,"r":-0.126,"e":0.0021},{"p":0.11441,"f":1.0011,"r":0.11,"e":0.0021},{"p":0.11486,"f":0.99958,"r":-0.042,"e":0.0021},{"p":0.11534,"f":0.99985,"r":-0.015,"e":0.0021},{"p":0.11589,"f":1.0002,"r":0.02,"e":0.0021},{"p":0.11634,"f":0.99842,"r":-0.158,"e":0.0021},{"p":0.11689,"f":0.9995,"r":-0.05,"e":0.0021},{"p":0.11737,"f":1.00246,"r":0.246,"e":0.0021},{"p":0.11789,"f":0.99991,"r":-0.009,"e":0.0021},{"p":0.11841,"f":1.00008,"r":0.008,"e":0.0021},
      {"p":0.11892,"f":1.00026,"r":0.026,"e":0.0021},{"p":0.11941,"f":1.00055,"r":0.055,"e":0.0021},{"p":0.11992,"f":1.00121,"r":0.121,"e":0.0021},{"p":0.1204,"f":0.99751,"r":-0.249,"e":0.0021},{"p":0.12092,"f":0.99968,"r":-0.032,"e":0.0021},{"p":0.1214,"f":0.99905,"r":-0.095,"e":0.0021},{"p":0.12188,"f":0.99689,"r":-0.311,"e":0.0021},{"p":0.12236,"f":0.99865,"r":-0.135,"e":0.0021},{"p":0.12288,"f":0.99949,"r":-0.051,"e":0.0021},{"p":0.12336,"f":1.00002,"r":0.002,"e":0.0021},
      {"p":0.12391,"f":1.00008,"r":0.008,"e":0.0021},{"p":0.12447,"f":1.00528,"r":0.528,"e":0.0021},{"p":0.12491,"f":0.9979,"r":-0.21,"e":0.0021},{"p":0.12532,"f":1.0022,"r":0.22,"e":0.0021},{"p":0.12576,"f":1.00202,"r":0.202,"e":0.0021},{"p":0.12606,"f":1.00159,"r":0.159,"e":0.0021}
    ],
    "bins": [
      {"p":-0.1213,"f":1.00053,"e":0.0006,"r":0.051},{"p":-0.11383,"f":1.0006,"e":0.0005,"r":0.059},{"p":-0.10636,"f":0.99988,"e":0.0006,"r":-0.014},{"p":-0.09889,"f":1.0006,"e":0.0006,"r":0.059},{"p":-0.09142,"f":1.00012,"e":0.0005,"r":0.01},{"p":-0.08395,"f":1.00056,"e":0.0006,"r":0.055},{"p":-0.07648,"f":1.00062,"e":0.0005,"r":0.062},{"p":-0.06901,"f":0.99988,"e":0.0008,"r":-0.014},{"p":-0.06154,"f":0.99948,"e":0.0005,"r":-0.053},{"p":-0.05407,"f":0.99984,"e":0.0006,"r":-0.016},
      {"p":-0.0466,"f":0.99985,"e":0.0006,"r":-0.016},{"p":-0.03913,"f":0.99913,"e":0.0006,"r":-0.088},{"p":-0.03166,"f":0.99969,"e":0.0006,"r":-0.031},{"p":-0.02419,"f":0.9992,"e":0.0005,"r":-0.059},{"p":-0.01672,"f":0.99015,"e":0.001,"r":0.029},{"p":-0.00925,"f":0.98611,"e":0.0005,"r":0.051},{"p":-0.00178,"f":0.98436,"e":0.00065,"r":-0.043},{"p":0.00569,"f":0.98504,"e":0.0005,"r":-0.008},{"p":0.01316,"f":0.9865,"e":0.00055,"r":-0.035},{"p":0.02063,"f":0.9973,"e":0.00085,"r":-0.018},
      {"p":0.0281,"f":0.99951,"e":0.00055,"r":-0.047},{"p":0.03557,"f":0.99904,"e":0.00056,"r":-0.096},{"p":0.04304,"f":1.00052,"e":0.0005,"r":0.051},{"p":0.05051,"f":0.99988,"e":0.0005,"r":-0.014},{"p":0.05798,"f":0.9998,"e":0.0006,"r":-0.021},{"p":0.06545,"f":1.00039,"e":0.0005,"r":0.041},{"p":0.07292,"f":1.0009,"e":0.0005,"r":0.088},{"p":0.08039,"f":1.00032,"e":0.0005,"r":0.031},{"p":0.08786,"f":0.99975,"e":0.00068,"r":-0.039},{"p":0.09533,"f":0.99971,"e":0.0005,"r":-0.029},
      {"p":0.1028,"f":1.0001,"e":0.0006,"r":0.01},{"p":0.11027,"f":0.9998,"e":0.0005,"r":-0.021},{"p":0.11774,"f":0.99992,"e":0.0005,"r":-0.01}
    ],
    "model": [
      {"p":-0.12497,"m":1},{"p":-0.0221,"m":1},{"p":-0.0212,"m":0.99918},{"p":-0.0204,"m":0.99739},{"p":-0.0197,"m":0.99533},{"p":-0.0189,"m":0.99314},{"p":-0.0182,"m":0.99094},{"p":-0.0175,"m":0.98929},{"p":-0.0169,"m":0.9884},{"p":-0.0163,"m":0.98785},
      {"p":-0.0152,"m":0.98717},{"p":-0.0134,"m":0.98641},{"p":-0.0115,"m":0.98586},{"p":-0.0097,"m":0.98548},{"p":-0.0079,"m":0.98522},{"p":-0.006,"m":0.98501},{"p":-0.0042,"m":0.98487},{"p":-0.0024,"m":0.98481},{"p":-0.0002,"m":0.98477},{"p":0.002,"m":0.98481},
      {"p":0.0038,"m":0.98487},{"p":0.0056,"m":0.98501},{"p":0.0075,"m":0.98522},{"p":0.0093,"m":0.98548},{"p":0.0111,"m":0.98586},{"p":0.013,"m":0.98641},{"p":0.0148,"m":0.98717},{"p":0.0159,"m":0.98785},{"p":0.0165,"m":0.9884},{"p":0.0171,"m":0.98929},
      {"p":0.0178,"m":0.99094},{"p":0.0185,"m":0.99314},{"p":0.0193,"m":0.99533},{"p":0.02,"m":0.99739},{"p":0.0208,"m":0.99918},{"p":0.0217,"m":1},{"p":0.12635,"m":1}
    ]
  },
  "spacing": 0,
  "bounds": "flush",
  "vconcat": [
    {
      "width": 2267,
      "height": 1121,
      "title": {"text": "HAT-P-5 b", "anchor": "middle", "frame": "group", "offset": 14},
      "layer": [
        {
          "data": {"name": "pts"},
          "mark": {"type": "point", "shape": "circle", "filled": true, "size": 85, "color": "black", "opacity": 1, "fillOpacity": 0.2, "stroke": "black", "strokeOpacity": 0.36, "strokeWidth": 2.7, "clip": true},
          "encoding": {
            "x": {"field": "p", "type": "quantitative", "scale": {"domain": [-0.12497, 0.12635], "nice": false, "zero": false}, "axis": null},
            "y": {"field": "f", "type": "quantitative", "scale": {"domain": [0.97589, 1.00946], "nice": false, "zero": false},
                  "axis": {"values": [0.98, 0.985, 0.99, 0.995, 1.0, 1.005], "format": ".3f"}, "title": "Relative Flux"}
          }
        },
        {
          "data": {"name": "pts"},
          "mark": {"type": "errorbar", "color": "black", "opacity": 0.2, "thickness": 4, "clip": true},
          "encoding": {
            "x": {"field": "p", "type": "quantitative", "scale": {"domain": [-0.12497, 0.12635], "nice": false, "zero": false}, "axis": null},
            "y": {"field": "f", "type": "quantitative", "scale": {"domain": [0.97589, 1.00946], "nice": false, "zero": false}, "title": "Relative Flux"},
            "yError": {"field": "e"}
          }
        },
        {
          "data": {"name": "bins"},
          "mark": {"type": "errorbar", "color": "#0000ff", "opacity": 1, "thickness": 5},
          "encoding": {
            "x": {"field": "p", "type": "quantitative", "axis": null},
            "y": {"field": "f", "type": "quantitative", "title": "Relative Flux"},
            "yError": {"field": "e"}
          }
        },
        {
          "data": {"name": "bins"},
          "mark": {"type": "square", "size": 841, "color": "#0000ff", "opacity": 1},
          "encoding": {
            "x": {"field": "p", "type": "quantitative", "axis": null},
            "y": {"field": "f", "type": "quantitative", "title": "Relative Flux"}
          }
        },
        {
          "data": {"name": "model"},
          "mark": {"type": "line", "color": "#ff0000", "strokeWidth": 5, "interpolate": "monotone"},
          "encoding": {
            "x": {"field": "p", "type": "quantitative", "axis": null},
            "y": {"field": "m", "type": "quantitative", "title": "Relative Flux"}
          }
        },
        {
          "data": {"values": [{}]},
          "mark": {"type": "rect", "fill": "white", "fillOpacity": 0.8, "stroke": "#cccccc", "strokeOpacity": 0.8, "strokeWidth": 3, "cornerRadius": 10},
          "encoding": {
            "x": {"datum": -0.1228, "type": "quantitative", "axis": null},
            "x2": {"datum": -0.01202},
            "y": {"datum": 0.97657, "type": "quantitative", "title": "Relative Flux"},
            "y2": {"datum": 0.98087}
          }
        },
        {
          "data": {"values": [{}]},
          "mark": {"type": "rule", "color": "#ff0000", "strokeWidth": 5},
          "encoding": {
            "x": {"datum": -0.1212, "type": "quantitative", "axis": null},
            "x2": {"datum": -0.1113},
            "y": {"datum": 0.9787, "type": "quantitative", "title": "Relative Flux"}
          }
        },
        {
          "data": {"values": [{}]},
          "mark": {"type": "text", "text": "R", "font": "DejaVu Sans", "fontSize": 41, "fontStyle": "italic", "align": "left", "baseline": "alphabetic", "color": "black"},
          "encoding": {"x": {"datum": -0.108, "type": "quantitative", "axis": null}, "y": {"datum": 0.9792, "type": "quantitative", "title": "Relative Flux"}}
        },
        {
          "data": {"values": [{}]},
          "mark": {"type": "text", "text": "p", "font": "DejaVu Sans", "fontSize": 29, "fontStyle": "italic", "align": "left", "baseline": "alphabetic", "color": "black"},
          "encoding": {"x": {"datum": -0.10496, "type": "quantitative", "axis": null}, "y": {"datum": 0.97897, "type": "quantitative", "title": "Relative Flux"}}
        },
        {
          "data": {"values": [{}]},
          "mark": {"type": "text", "text": "2", "font": "DejaVu Sans", "fontSize": 29, "align": "left", "baseline": "alphabetic", "color": "black"},
          "encoding": {"x": {"datum": -0.10496, "type": "quantitative", "axis": null}, "y": {"datum": 0.97972, "type": "quantitative", "title": "Relative Flux"}}
        },
        {
          "data": {"values": [{}]},
          "mark": {"type": "text", "text": "/", "font": "DejaVu Sans", "fontSize": 41, "align": "left", "baseline": "alphabetic", "color": "black"},
          "encoding": {"x": {"datum": -0.10252, "type": "quantitative", "axis": null}, "y": {"datum": 0.9792, "type": "quantitative", "title": "Relative Flux"}}
        },
        {
          "data": {"values": [{}]},
          "mark": {"type": "text", "text": "R", "font": "DejaVu Sans", "fontSize": 41, "fontStyle": "italic", "align": "left", "baseline": "alphabetic", "color": "black"},
          "encoding": {"x": {"datum": -0.10086, "type": "quantitative", "axis": null}, "y": {"datum": 0.9792, "type": "quantitative", "title": "Relative Flux"}}
        },
        {
          "data": {"values": [{}]},
          "mark": {"type": "text", "text": "s", "font": "DejaVu Sans", "fontSize": 29, "fontStyle": "italic", "align": "left", "baseline": "alphabetic", "color": "black"},
          "encoding": {"x": {"datum": -0.09775, "type": "quantitative", "axis": null}, "y": {"datum": 0.97897, "type": "quantitative", "title": "Relative Flux"}}
        },
        {
          "data": {"values": [{}]},
          "mark": {"type": "text", "text": "2", "font": "DejaVu Sans", "fontSize": 29, "align": "left", "baseline": "alphabetic", "color": "black"},
          "encoding": {"x": {"datum": -0.09775, "type": "quantitative", "axis": null}, "y": {"datum": 0.97972, "type": "quantitative", "title": "Relative Flux"}}
        },
        {
          "data": {"values": [{}]},
          "mark": {"type": "text", "text": "= 0.01346 ± 0.00035", "font": "DejaVu Sans", "fontSize": 41, "align": "left", "baseline": "alphabetic", "color": "black"},
          "encoding": {"x": {"datum": -0.09425, "type": "quantitative", "axis": null}, "y": {"datum": 0.9792, "type": "quantitative", "title": "Relative Flux"}}
        },
        {
          "data": {"values": [{}]},
          "mark": {"type": "text", "text": "T", "font": "DejaVu Sans", "fontSize": 41, "fontStyle": "italic", "align": "left", "baseline": "alphabetic", "color": "black"},
          "encoding": {"x": {"datum": -0.108, "type": "quantitative", "axis": null}, "y": {"datum": 0.97741, "type": "quantitative", "title": "Relative Flux"}}
        },
        {
          "data": {"values": [{}]},
          "mark": {"type": "text", "text": "mid", "font": "DejaVu Sans", "fontSize": 29, "fontStyle": "italic", "align": "left", "baseline": "alphabetic", "color": "black"},
          "encoding": {"x": {"datum": -0.1054, "type": "quantitative", "axis": null}, "y": {"datum": 0.97718, "type": "quantitative", "title": "Relative Flux"}}
        },
        {
          "data": {"values": [{}]},
          "mark": {"type": "text", "text": "= 2459771.31898 ± 0.00071", "font": "DejaVu Sans", "fontSize": 41, "align": "left", "baseline": "alphabetic", "color": "black"},
          "encoding": {"x": {"datum": -0.09764, "type": "quantitative", "axis": null}, "y": {"datum": 0.97741, "type": "quantitative", "title": "Relative Flux"}}
        },
        {
          "data": {"values": [{}]},
          "mark": {"type": "text", "text": "BJD", "font": "DejaVu Sans", "fontSize": 41, "align": "left", "baseline": "alphabetic", "color": "black"},
          "encoding": {"x": {"datum": -0.02823, "type": "quantitative", "axis": null}, "y": {"datum": 0.97741, "type": "quantitative", "title": "Relative Flux"}}
        },
        {
          "data": {"values": [{}]},
          "mark": {"type": "text", "text": "TDB", "font": "DejaVu Sans", "fontSize": 29, "fontStyle": "italic", "align": "left", "baseline": "alphabetic", "color": "black"},
          "encoding": {"x": {"datum": -0.01985, "type": "quantitative", "axis": null}, "y": {"datum": 0.97718, "type": "quantitative", "title": "Relative Flux"}}
        }
      ]
    },
    {
      "width": 2267,
      "height": 372,
      "layer": [
        {
          "data": {"name": "pts"},
          "mark": {"type": "point", "shape": "circle", "filled": true, "size": 85, "color": "black", "opacity": 1, "fillOpacity": 0.2, "stroke": "black", "strokeOpacity": 0.36, "strokeWidth": 2.7, "clip": true},
          "encoding": {
            "x": {"field": "p", "type": "quantitative", "scale": {"domain": [-0.12497, 0.12635], "nice": false, "zero": false},
                  "axis": {"values": [-0.1, -0.05, 0, 0.05, 0.1], "format": ".2f"}, "title": "Phase"},
            "y": {"field": "r", "type": "quantitative", "scale": {"domain": [-0.656, 0.637], "nice": false, "zero": false},
                  "axis": {"values": [-0.5, 0, 0.5], "format": ".1f"}, "title": "Residuals [%]"}
          }
        },
        {
          "data": {"name": "bins"},
          "mark": {"type": "square", "size": 841, "color": "#0000ff", "opacity": 1},
          "encoding": {
            "x": {"field": "p", "type": "quantitative", "title": "Phase"},
            "y": {"field": "r", "type": "quantitative", "title": "Residuals [%]"}
          }
        },
        {
          "data": {"values": [{}]},
          "mark": {"type": "rect", "fill": "white", "fillOpacity": 0.8, "stroke": "#cccccc", "strokeOpacity": 0.8, "strokeWidth": 3, "cornerRadius": 10},
          "encoding": {
            "x": {"datum": 0.08177, "type": "quantitative", "title": "Phase"},
            "x2": {"datum": 0.12401},
            "y": {"datum": 0.302, "type": "quantitative", "title": "Residuals [%]"},
            "y2": {"datum": 0.561}
          }
        },
        {
          "data": {"values": [{}]},
          "mark": {"type": "text", "text": "σ", "font": "DejaVu Sans", "fontSize": 41, "fontStyle": "italic", "align": "left", "baseline": "alphabetic", "color": "black"},
          "encoding": {"x": {"datum": 0.09683, "type": "quantitative", "title": "Phase"}, "y": {"datum": 0.391, "type": "quantitative", "title": "Residuals [%]"}}
        },
        {
          "data": {"values": [{}]},
          "mark": {"type": "text", "text": "= 0.21 %", "font": "DejaVu Sans", "fontSize": 41, "align": "right", "baseline": "alphabetic", "color": "black"},
          "encoding": {"x": {"datum": 0.12206, "type": "quantitative", "title": "Phase"}, "y": {"datum": 0.391, "type": "quantitative", "title": "Residuals [%]"}}
        }
      ]
    }
  ],
  "config": {
    "font": "DejaVu Sans",
    "view": {"stroke": "black", "strokeWidth": 3.2},
    "title": {"font": "DejaVu Sans", "fontSize": 48, "fontWeight": "normal", "color": "black"},
    "axis": {
      "labelFont": "DejaVu Sans", "labelFontSize": 40, "labelColor": "black",
      "titleFont": "DejaVu Sans", "titleFontSize": 56, "titleFontWeight": "normal", "titleColor": "black",
      "tickColor": "black", "tickSize": 15, "tickWidth": 3.2, "domain": false,
      "labelPadding": 12, "labelFlush": false, "labelOverlap": false,
      "gridColor": "#b0b0b0", "gridDash": [11, 5], "gridWidth": 2.5
    },
    "axisX": {"grid": false, "titlePadding": 21},
    "axisY": {"grid": true, "titlePadding": 24}
  }
}
